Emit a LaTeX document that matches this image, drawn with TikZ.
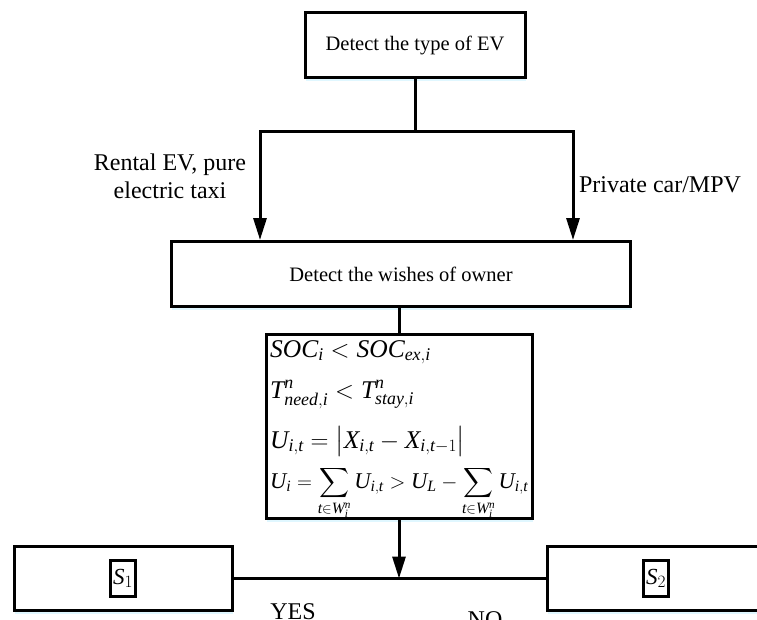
\documentclass[tikz,border=0pt]{standalone}
\usepackage{amsmath}
\usepackage{fontspec}
\setmainfont{Liberation Serif}
\usetikzlibrary{arrows.meta,shadows}
\newcommand{\mv}[1]{\mathit{#1}}
\begin{document}
\begin{tikzpicture}[x=1pt,y=-1pt,
  thick line/.style={line width=3pt},
  tip/.style={-{Triangle[length=22pt,width=13pt]}},
  boxnode/.style={draw,line width=3pt,fill=white,inner sep=0pt,
    drop shadow={shadow xshift=0.5pt,shadow yshift=-3pt,fill=blue!25!cyan!12,opacity=1}},
  inbox/.style={draw,line width=2.5pt,inner sep=0pt,minimum width=25pt,minimum height=36pt},
  txt/.style={font=\fontsize{20.5}{24}\selectfont},
  lbl/.style={font=\fontsize{24}{28}\selectfont,inner sep=0pt,anchor=base},
  eq/.style={font=\fontsize{25.5}{28}\selectfont,inner sep=0pt,anchor=base west}]
\useasboundingbox (0,0) rectangle (757,619);
% boxes
\node[boxnode,txt,minimum width=220pt,minimum height=65pt] (top) at (415,45) {Detect the type of EV};
\node[boxnode,txt,minimum width=459pt,minimum height=65pt] (mid) at (401,274) {Detect the wishes of owner};
\node[boxnode,minimum width=266pt,minimum height=184pt] (fbox) at (399,426.5) {};
\node[boxnode,minimum width=218pt,minimum height=64pt] (s1) at (123.5,578.5) {};
\node[boxnode,minimum width=224pt,minimum height=64pt] (s2) at (659.5,578.5) {};
\node[inbox,font=\fontsize{23}{26}\selectfont] (s1in) at (123,578.5) {$\mv{S}_{1}$};
\node[inbox,font=\fontsize{23}{26}\selectfont] (s2in) at (656,578.5) {$\mv{S}_{2}$};
% formula
\node[eq] (e1) at (270,357) {$\mv{SOC}_{\mv{i}} < \mv{SOC}_{\mv{ex},\mv{i}}$};
\node[eq] (e2) at (270,398) {$\mv{T}^{\mv{n}}_{\mv{need},\mv{i}} < \mv{T}^{\mv{n}}_{\mv{stay},\mv{i}}$};
\node[eq] (e3) at (270,448) {$\mv{U}_{\mv{i},\mv{t}} = \bigl|\mv{X}_{\mv{i},\mv{t}} - \mv{X}_{\mv{i},\mv{t}-1}\bigr|$};
\node[eq,font=\fontsize{22.5}{26}\selectfont] (e4) at (270,488) {$\displaystyle \mv{U}_{\mv{i}} = \sum_{\mv{t}\in \mv{W}_{\mv{i}}^{\mv{n}}} \mv{U}_{\mv{i},\mv{t}} > \mv{U}_{\mv{L}} - \sum_{\mv{t}\in \mv{W}_{\mv{i}}^{\mv{n}}} \mv{U}_{\mv{i},\mv{t}}$};
% connectors
\coordinate (jl) at (260,131);
\coordinate (jr) at (573,131);
\draw[thick line] (top.south) -- (top.south |- jl);
\draw[thick line,{Triangle[length=22pt,width=13pt]}-{Triangle[length=22pt,width=13pt]}]
  (jl |- mid.north) -- (jl) -- (jr) -- (jr |- mid.north);
\draw[thick line] (fbox.north |- mid.south) -- (fbox.north);
\draw[thick line,tip] (fbox.south) -- (fbox.south |- s1.east);
\draw[thick line] (s1.east) -- (s2.west);
% labels
\node[lbl] (l1a) at (170,170) {Rental EV, pure};
\node[lbl] (l1b) at (170,198) {electric taxi};
\node[lbl] (l2) at (660,192) {Private car/MPV};
\node[lbl] (yes) at (293,619) {YES};
\node[lbl] (no) at (485,627) {NO};
\end{tikzpicture}
\end{document}
